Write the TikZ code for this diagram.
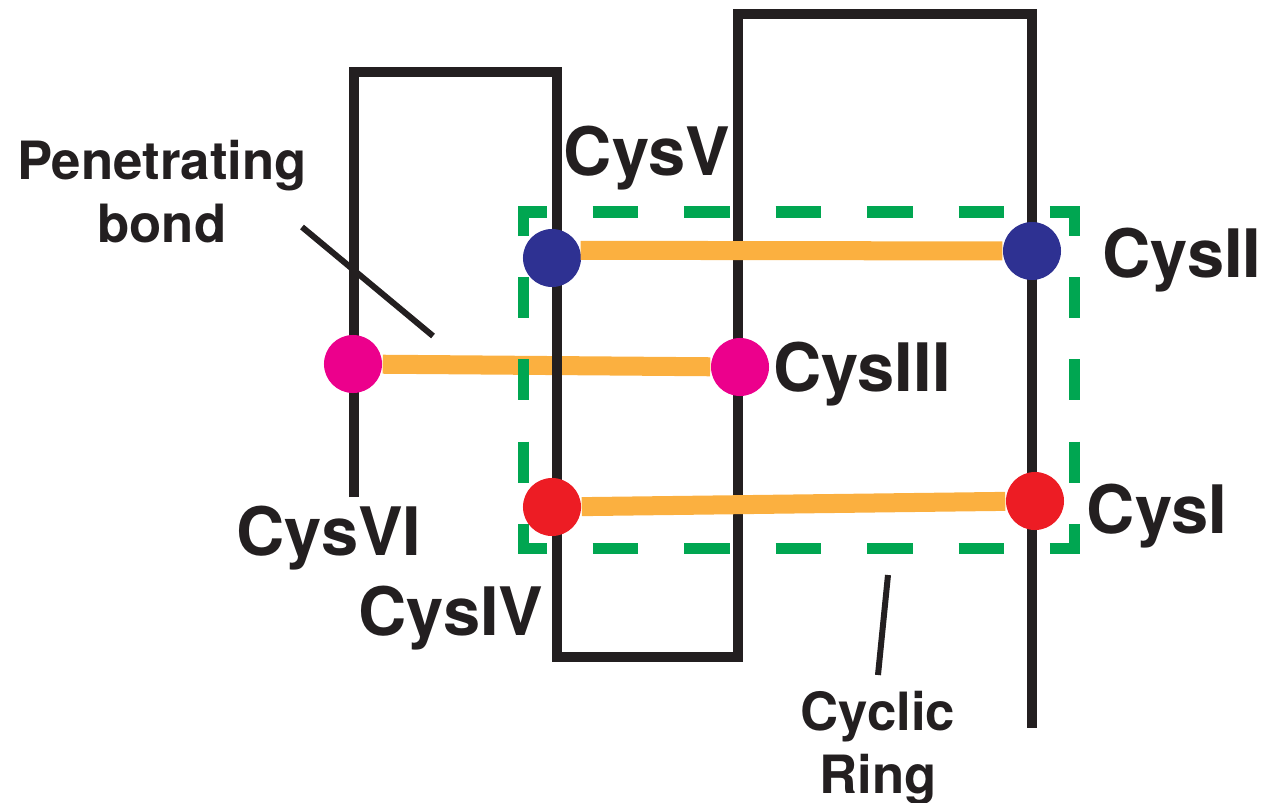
\documentclass[tikz,border=0pt]{standalone}
\usepackage{fontspec}
\setmainfont{TeX Gyre Heros}
\usepackage{tikz}
\usetikzlibrary{positioning}

\definecolor{inkblack}{RGB}{35,31,32}
\definecolor{bondorange}{RGB}{251,176,64}
\definecolor{ringgreen}{RGB}{0,166,81}
\definecolor{cysblue}{RGB}{46,49,146}
\definecolor{cysmagenta}{RGB}{236,0,140}
\definecolor{cysred}{RGB}{237,28,36}

\pgfdeclarelayer{under}
\pgfsetlayers{under,main}

\begin{document}
\begin{tikzpicture}[
    x=0.01cm, y=-0.01cm,
    strand/.style={draw=inkblack, line width=1mm, line join=miter},
    bond/.style={draw=bondorange, line width=1.9mm},
    cys/.style={circle, inner sep=0pt, minimum size=5.8mm},
    ring/.style={draw=ringgreen, line width=1.1mm},
    hdash/.style={ring, dash pattern=on 4.57mm off 4.57mm, dash phase=4.57mm},
    vdash/.style={ring, dash pattern=on 4.11mm off 4.11mm, dash phase=4.11mm},
    pointer/.style={draw=inkblack, line width=0.6mm},
    lbl/.style={font=\fontsize{19}{22}\selectfont\bfseries, text=inkblack,
                inner sep=0pt, anchor=base},
    note/.style={font=\fontsize{15}{18}\selectfont\bfseries, text=inkblack,
                 inner sep=0pt, align=center, anchor=north}
]
\useasboundingbox (0,0) rectangle (1278,803);

% backbone strand
\draw[strand] (354,497) -- (354,72) -- (557,72) -- (557,657) -- (738,657)
    -- (738,14) -- (1032,14) -- (1032,728);

% cyclic ring box
\draw[ring] (523,236) |- (547,212);
\draw[ring] (1050,212) -| (1074,236);
\draw[ring] (1074,524) |- (1050,548);
\draw[ring] (547,548) -| (523,524);
\draw[hdash] (547,212) -- (1050,212);
\draw[hdash] (547,548) -- (1050,548);
\draw[vdash] (523,236) -- (523,524);
\draw[vdash] (1074,236) -- (1074,524);

% cysteines
\node[cys, fill=cysred] (cysI) at (1035,501) {};
\node[cys, fill=cysblue] (cysII) at (1032,251) {};
\node[cys, fill=cysmagenta] (cysIII) at (740,367) {};
\node[cys, fill=cysred] (cysIV) at (552,507) {};
\node[cys, fill=cysblue] (cysV) at (552,258) {};
\node[cys, fill=cysmagenta] (cysVI) at (353,364) {};

% disulfide bonds
\begin{pgfonlayer}{under}
\draw[bond] (cysVI) -- (cysIII);
\end{pgfonlayer}
\draw[bond] (cysV.15) -- (cysII);
\draw[bond] (cysIV) -- (cysI);

% labels
\node[lbl] (labV) at (647,175) {CysV};
\node[lbl] (labII) at (1182,277) {CysII};
\node[lbl] (labIII) at (862,391) {CysIII};
\node[lbl] (labVI) at (329,555) {CysVI};
\node[lbl] (labIV) at (451,635) {CysIV};
\node[lbl] (labI) at (1157,533) {CysI};

\node[note] (penet) at (162,139) {Penetrating\\bond};
\node[note] (cyclic) at (878,690) {Cyclic\\Ring};

% pointers
\coordinate (penetTail) at (302,227);
\coordinate (penetTip) at (433,336);
\draw[pointer] (penetTail) -- (penetTip);
\coordinate (ringTail) at (878,675);
\coordinate (ringTip) at (888,575);
\draw[pointer] (ringTail) -- (ringTip);

\end{tikzpicture}
\end{document}
